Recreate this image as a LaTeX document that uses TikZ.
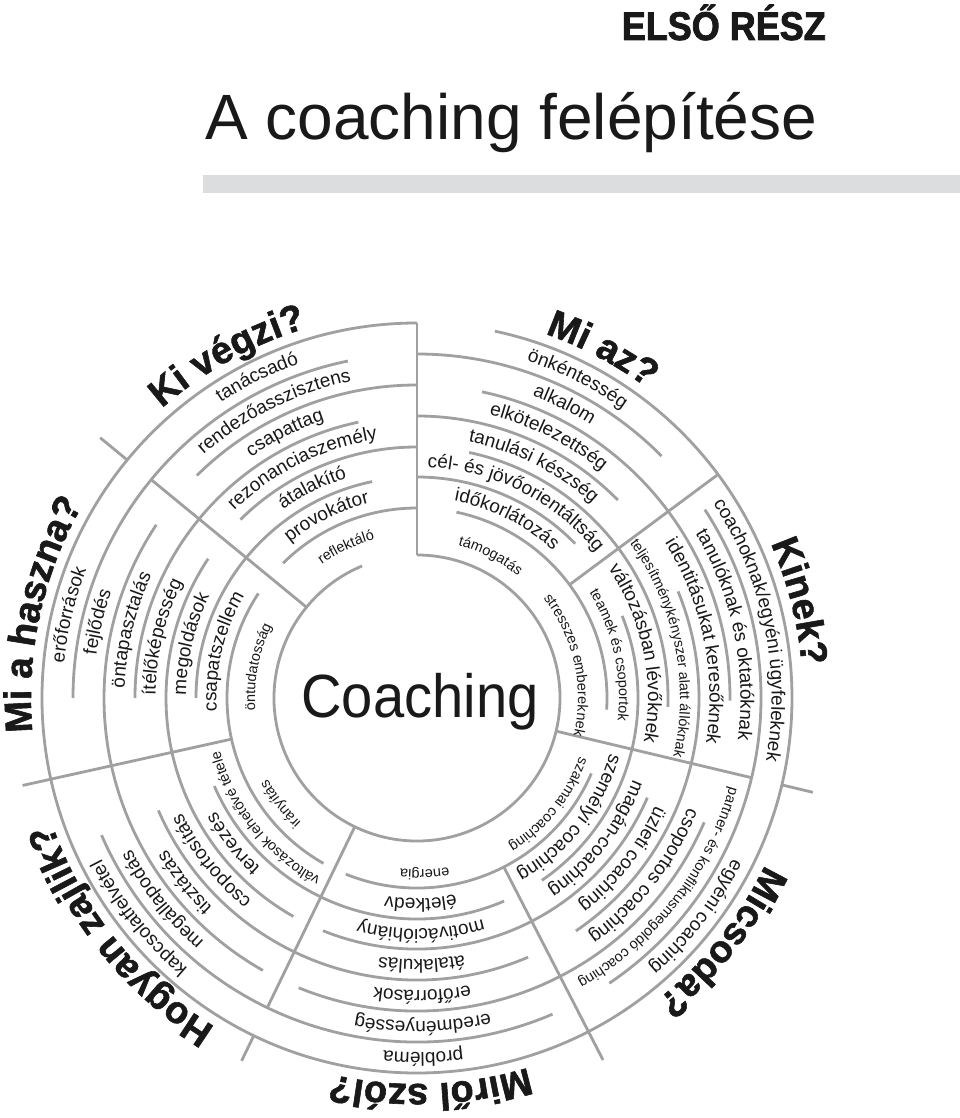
\documentclass[tikz,border=0pt]{standalone}
\usepackage{fontspec}
\setmainfont{Liberation Sans}
\newfontfamily\lsans{Liberation Sans}
\newfontfamily\lsansc[FakeStretch=0.92]{Liberation Sans}
\newfontfamily\lsansb[FakeBold=1.5]{Liberation Sans Bold}
\newfontfamily\lsanshead[FakeBold=2,FakeStretch=0.9]{Liberation Sans Bold}
\usetikzlibrary{decorations.text}
\definecolor{ln}{RGB}{160,160,160}
\definecolor{barc}{RGB}{220,221,223}
\definecolor{ink}{RGB}{25,25,25}
\newcommand\fitem{\lsans\fontsize{19bp}{21bp}\selectfont}
\newcommand\fsml{\lsans\fontsize{14.5bp}{16bp}\selectfont}
\newcommand\flab{\lsansb\fontsize{38bp}{42bp}\selectfont}
\newcommand\ctxt[4]{\path[decorate,decoration={text along path,text align=center,text color=ink,text={|#3|#4}}] ({#2+60}:{#1}) arc[start angle={#2+60},end angle={#2-60},radius=#1];}
\newcommand\carc[3]{\draw[rl] ({#2}:{#1}) arc[start angle={#2},end angle={#3},radius=#1];}
\newcommand\cspoke[3]{\draw[rl] ({#1}:{#2}) -- ({#1}:{#3});}
\begin{document}
\begin{tikzpicture}[x=1bp,y=1bp,rl/.style={draw=ln,line width=2.8bp}]
\useasboundingbox (-417,-420) rectangle (543,698);
\fill[white] (-417,-420) rectangle (543,698);
% title
\node[anchor=base east,inner sep=0,text=ink,font=\lsanshead\fontsize{40bp}{44bp}\selectfont] (part) at (409,658) {ELSŐ RÉSZ};
\node[anchor=base west,inner sep=0,text=ink,font=\lsans\fontsize{64bp}{70bp}\selectfont] (title) at (-212,558) {A coaching felépítése};
\fill[barc] (-214,505) rectangle (543,523);
% centre
\node[anchor=base,inner sep=0,text=ink,font=\lsansc\fontsize{61bp}{66bp}\selectfont] (coach) at (3,-19) {Coaching};
% outer and inner circles
\carc{375}{90}{438}
\carc{143}{112.6}{450}
% spokes
\cspoke{90}{143}{375}
\cspoke{36.6}{190}{375}
\cspoke{-13.4}{143}{344}\cspoke{-13.4}{375}{407}
\cspoke{-62.8}{190}{407}
\cspoke{-115.8}{143}{344}\cspoke{-115.8}{375}{403}
\cspoke{-167.5}{190}{404}
\cspoke{140.6}{143}{344}\cspoke{140.6}{375}{410}
% odd rings (344, 282, 221)
\carc{344}{44.7}{90}\carc{344}{-56}{33.2}\carc{344}{-156.5}{-66.8}\carc{344}{101.6}{180}
\carc{282}{44.6}{90}\carc{282}{-55.7}{22.2}\carc{282}{-156.5}{-66.8}\carc{282}{102}{180}
\carc{221}{44.3}{90}\carc{221}{-55.6}{21.8}\carc{221}{-156.5}{-66.8}\carc{221}{101.7}{180}
% even rings (313, 251, 190)
\carc{313}{90}{134.7}\carc{313}{-0.5}{78}\carc{313}{-112.2}{-23.4}\carc{313}{146.4}{240.5}
\carc{251}{90}{134.7}\carc{251}{-2}{78}\carc{251}{-112}{-23.4}\carc{251}{146.3}{240.5}
\carc{190}{90}{134.8}\carc{190}{-3.5}{78}\carc{190}{-112}{-23.4}\carc{190}{146.6}{240.5}
% labels
\ctxt{386}{62}{\flab}{Mi az?}
\ctxt{386}{119}{\flab}{Ki végzi?}
\ctxt{386}{167.5}{\flab}{Mi a haszna?}
\ctxt{386}{-141.3}{\flab}{Hogyan zajlik?}
\ctxt{386}{-88}{\flab}{Miről szól?}
\ctxt{386}{-38.6}{\flab}{Micsoda?}
\ctxt{386}{14.2}{\flab}{Kinek?}
% Mi az
\ctxt{354.5}{63.3}{\fitem}{önkéntesség}
\ctxt{323.5}{63.3}{\fitem}{alkalom}
\ctxt{292.5}{63.3}{\fitem}{elkötelezettség}
\ctxt{261.5}{63.3}{\fitem}{tanulási készség}
\ctxt{231}{63.3}{\fitem}{cél- és jövőorientáltság}
\ctxt{200.5}{63.3}{\fitem}{időkorlátozás}
\ctxt{158}{62.6}{\fsml}{támogatás}
% Kinek
\ctxt{354.5}{11.6}{\fitem}{coachoknak/egyéni ügyfeleknek}
\ctxt{323.5}{11.6}{\fitem}{tanulóknak és oktatóknak}
\ctxt{292.5}{11.6}{\fitem}{identitásukat keresőknek}
\ctxt{263}{11.6}{\fsml}{teljesítménykényszer alatt állóknak}
\ctxt{231}{11.6}{\fitem}{változásban lévőknek}
\ctxt{202}{12.5}{\fsml}{teamek és csoportok}
\ctxt{161}{12.5}{\fsml}{stresszes embereknek}
% Micsoda
\ctxt{354.5}{-38.1}{\fitem}{egyéni coaching}
\ctxt{325}{-38.1}{\fsml}{partner- és konfliktusmegoldó coaching}
\ctxt{292.5}{-38.1}{\fitem}{csoportos coaching}
\ctxt{261.5}{-38.1}{\fitem}{üzleti coaching}
\ctxt{231}{-38.1}{\fitem}{magán-coaching}
\ctxt{200.5}{-38.1}{\fitem}{személyi coaching}
\ctxt{173}{-39}{\fsml}{szakmai coaching}
% Mirol szol
\ctxt{354.5}{-89}{\fitem}{probléma}
\ctxt{323.5}{-89}{\fitem}{eredményesség}
\ctxt{292.5}{-89}{\fitem}{erőforrások}
\ctxt{261.5}{-89}{\fitem}{átalakulás}
\ctxt{231}{-89}{\fitem}{motivációhiány}
\ctxt{200.5}{-89}{\fitem}{életkedv}
\ctxt{172}{-87.5}{\fsml}{energia}
% Hogyan zajlik
\ctxt{354.5}{-141.6}{\fitem}{kapcsolatfelvétel}
\ctxt{323.5}{-141.6}{\fitem}{megállapodás}
\ctxt{292.5}{-141.6}{\fitem}{tisztázás}
\ctxt{261.5}{-141.6}{\fitem}{csoportosítás}
\ctxt{231}{-141.6}{\fitem}{tervezés}
\ctxt{204}{-141.6}{\fsml}{változások lehetővé tétele}
\ctxt{170}{-142.2}{\fsml}{irányítás}
% Mi a haszna
\ctxt{354.5}{166.6}{\fitem}{erőforrások}
\ctxt{323.5}{166.6}{\fitem}{fejlődés}
\ctxt{292.5}{166.6}{\fitem}{öntapasztalás}
\ctxt{261.5}{166.6}{\fitem}{ítélőképesség}
\ctxt{231}{166.6}{\fitem}{megoldások}
\ctxt{200.5}{166.6}{\fitem}{csapatszellem}
\ctxt{162}{169}{\fsml}{öntudatosság}
% Ki vegzi
\ctxt{354.5}{116.5}{\fitem}{tanácsadó}
\ctxt{323.5}{116.5}{\fitem}{rendezőasszisztens}
\ctxt{292.5}{116.5}{\fitem}{csapattag}
\ctxt{261.5}{116.5}{\fitem}{rezonanciaszemély}
\ctxt{231}{116.5}{\fitem}{átalakító}
\ctxt{200.5}{116.5}{\fitem}{provokátor}
\ctxt{164}{115.2}{\fsml}{reflektáló}
\end{tikzpicture}
\end{document}
